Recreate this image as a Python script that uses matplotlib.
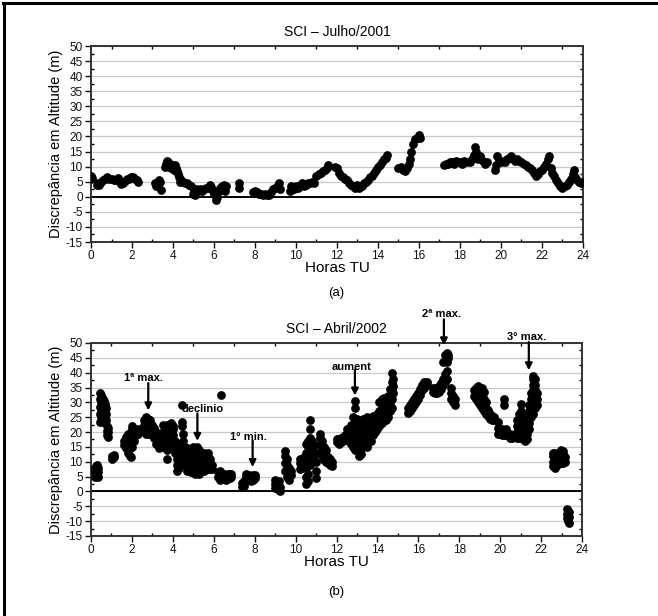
import matplotlib
matplotlib.use("Agg")
import matplotlib.pyplot as plt
from matplotlib.lines import Line2D
from matplotlib.ticker import MultipleLocator

plt.rcParams['font.family'] = ['Liberation Sans', 'DejaVu Sans']
plt.rcParams['axes.unicode_minus'] = False

# SCI - Julho/2001 (hora TU, discrepancia m)
jul_pts = [
    (0.00, 6.8), (0.02, 5.8), (0.05, 6.2),
    (0.30, 4.0), (0.35, 4.5), (0.40, 4.0),
    (0.50, 5.0), (0.60, 5.5), (0.70, 6.0), (0.80, 6.5), (0.90, 6.0), (1.00, 5.8),
    (1.10, 5.5), (1.20, 5.5), (1.30, 6.2), (1.40, 5.0), (1.45, 4.3), (1.55, 4.5),
    (1.65, 5.2), (1.75, 5.8), (1.85, 6.0), (1.95, 6.5), (2.05, 6.5), (2.15, 6.0),
    (2.25, 5.5), (2.30, 4.8),
    (3.10, 4.5), (3.15, 3.5), (3.20, 4.0), (3.30, 5.5), (3.35, 5.0), (3.40, 2.2),
    (3.60, 10.0), (3.65, 11.0), (3.70, 12.0), (3.75, 11.5), (3.80, 10.0), (3.85, 11.0),
    (3.90, 9.5), (3.95, 10.5), (4.00, 10.0), (4.05, 9.0), (4.10, 10.5), (4.15, 9.5),
    (4.20, 8.5), (4.25, 7.5),
    (4.30, 6.5), (4.35, 5.0), (4.40, 5.5), (4.50, 5.0), (4.60, 4.5), (4.70, 4.5),
    (4.80, 4.0), (4.90, 3.5),
    (5.00, 1.0), (5.02, 2.0), (5.05, 0.5), (5.10, 2.5), (5.20, 2.0), (5.30, 2.5),
    (5.40, 2.0), (5.50, 2.5), (5.60, 2.8), (5.70, 3.0), (5.80, 4.0), (5.85, 3.2),
    (5.95, 2.0), (6.00, 1.0), (6.05, 0.5), (6.10, -1.0), (6.15, 0.0),
    (6.25, 2.0), (6.30, 3.0), (6.40, 3.5), (6.50, 4.0), (6.55, 2.0), (6.60, 3.5),
    (7.20, 3.0), (7.22, 4.5),
    (7.90, 1.5), (8.00, 2.0), (8.10, 1.5), (8.20, 1.0), (8.30, 1.0), (8.40, 0.5),
    (8.50, 1.0), (8.60, 0.5), (8.70, 0.5), (8.80, 1.5), (8.90, 2.5), (9.00, 3.0),
    (9.10, 4.0), (9.15, 4.5), (9.20, 2.5),
    (9.70, 2.0), (9.75, 3.5), (9.80, 3.0), (9.90, 2.5), (10.00, 3.5), (10.10, 3.0),
    (10.20, 3.5), (10.30, 4.5), (10.40, 3.5), (10.50, 4.0), (10.60, 4.5), (10.70, 4.5),
    (10.80, 5.0), (10.90, 4.5),
    (11.00, 7.0), (11.10, 7.5), (11.20, 8.0), (11.30, 8.5), (11.40, 9.0), (11.50, 9.5),
    (11.55, 10.5),
    (11.90, 10.0), (12.00, 9.5), (12.10, 8.0), (12.20, 7.0), (12.30, 6.5), (12.40, 6.0),
    (12.50, 5.5), (12.60, 4.5), (12.70, 4.0), (12.80, 3.5), (12.90, 3.0), (13.00, 4.0),
    (13.05, 3.0), (13.10, 3.5), (13.20, 3.5), (13.30, 4.5), (13.40, 5.0), (13.50, 5.5),
    (13.60, 6.5), (13.70, 7.0), (13.80, 8.0), (13.90, 9.0), (14.00, 10.0), (14.10, 10.5),
    (14.20, 11.5), (14.30, 12.5), (14.40, 13.0), (14.45, 14.0),
    (15.00, 9.5), (15.10, 10.0), (15.20, 9.0), (15.30, 8.5), (15.40, 9.5), (15.50, 11.0),
    (15.55, 12.5), (15.60, 15.0), (15.70, 17.5), (15.80, 19.0), (15.90, 19.5),
    (16.00, 20.5), (16.05, 19.5),
    (17.20, 10.5), (17.30, 11.0), (17.40, 11.0), (17.50, 11.5), (17.60, 11.5),
    (17.70, 11.0), (17.80, 12.0), (17.90, 11.5), (18.00, 11.5), (18.10, 11.0),
    (18.20, 12.0), (18.30, 11.5),
    (18.50, 11.5), (18.60, 12.5), (18.70, 14.0), (18.75, 16.5), (18.80, 15.0),
    (18.90, 12.5), (19.00, 13.5), (19.10, 12.0), (19.20, 11.0), (19.30, 11.5),
    (19.70, 9.0), (19.75, 10.5), (19.80, 13.5), (19.90, 12.0), (20.00, 11.5),
    (20.10, 12.0), (20.20, 11.5), (20.30, 12.5), (20.40, 13.0), (20.50, 13.5),
    (20.60, 12.5), (20.70, 12.0), (20.80, 12.5), (20.90, 12.0), (21.00, 11.5),
    (21.10, 11.0), (21.20, 10.5), (21.30, 10.0), (21.40, 9.5), (21.50, 9.0),
    (21.60, 8.0), (21.70, 7.0), (21.80, 7.5), (21.90, 8.5), (22.00, 9.0),
    (22.10, 10.0), (22.20, 11.0), (22.30, 12.5), (22.35, 13.5),
    (22.45, 9.5), (22.50, 8.0), (22.60, 7.0), (22.70, 5.5), (22.80, 4.5), (22.90, 3.5),
    (23.00, 3.0), (23.10, 3.5), (23.20, 4.0), (23.30, 5.0), (23.40, 6.0), (23.50, 7.5),
    (23.55, 9.0), (23.60, 6.5), (23.70, 5.5), (23.80, 5.0), (23.90, 4.5), (24.00, 5.0),
]

abr_cols = [
    (0.20, [5, 6.5, 8]), (0.25, [5.5, 7, 8.5]), (0.30, [6, 7.5, 9]), (0.35, [5, 6.5, 8]),
    (0.45, [23.5, 26, 28.5, 31, 33]), (0.50, [25, 27.5, 30, 32.5]),
    (0.55, [24, 26.5, 29, 31.5]), (0.60, [23.5, 26, 28.5, 31]),
    (0.65, [24, 26.5, 29, 30.5]), (0.70, [23.5, 25.5, 28, 29.5]), (0.75, [24, 26, 28]),
    (0.80, [19, 20.5, 22]), (0.85, [18.5, 20, 21.5]),
    (1.05, [11, 12]), (1.12, [11.5, 12.2]),
    (1.60, [15.5, 17]), (1.70, [14.5, 16.5, 18.5]), (1.80, [13, 15.5, 17.5, 19.5]),
    (1.90, [12, 14.5, 16.5, 18.5]), (1.95, [11.5, 20]), (2.00, [15, 18, 21, 22]),
    (2.10, [17, 19, 21]), (2.20, [19, 20.5]), (2.30, [19.5, 21]),
    (2.60, [20.5, 22.5, 24]), (2.70, [19.5, 21.5, 23.5, 25]),
    (2.80, [19.5, 21.5, 23.5, 24.5]), (2.90, [20, 22, 24]), (3.00, [19, 21, 22.5]),
    (3.10, [18, 20, 21.5]), (3.20, [16, 18, 20]), (3.30, [14.5, 16.5, 19]),
    (3.40, [15, 17, 19.5]), (3.50, [16, 18, 20, 22.5]), (3.60, [15, 17.5, 20, 22]),
    (3.70, [11, 14, 17, 20, 22.5]), (3.80, [15, 17.5, 20, 22.5]),
    (3.90, [16, 18.5, 21, 23]), (4.00, [17, 19, 21, 22]), (4.10, [13, 15, 17]),
    (4.20, [7, 9, 11, 13, 14.5]), (4.30, [8, 10, 12, 14]), (4.40, [10, 12, 14, 16]),
    (4.45, [22, 23.5, 29]), (4.50, [12, 14.5, 17, 19.5]), (4.60, [9, 11, 13, 15]),
    (4.70, [7, 9, 11, 13, 14.5]), (4.80, [8, 10, 12, 14]),
    (4.90, [6.5, 8.5, 10.5, 12.5, 14]), (5.00, [7, 9, 11, 13, 15]),
    (5.10, [6, 8, 10, 12, 14]), (5.20, [7, 9, 11, 13, 15]), (5.30, [6, 8, 10, 12, 14]),
    (5.40, [7, 9, 11, 13]), (5.50, [7, 9, 11, 13]), (5.60, [7.5, 9.5, 11.5]),
    (5.70, [7.5, 9.5, 11.5, 13]), (5.80, [7.5, 9.5, 11]), (5.90, [7.5, 9]),
    (6.35, [32.5]),
    (6.20, [5, 6.5]), (6.30, [4, 5.5, 7]), (6.40, [4.5, 6]), (6.50, [4.5, 6]),
    (6.60, [4, 5.5]), (6.70, [4.5, 6]), (6.80, [4.5, 6]), (6.85, [5, 6]),
    (7.40, [1.5, 3]), (7.50, [2, 3.5]), (7.60, [3.5, 5, 6]), (7.70, [4, 5.5]),
    (7.80, [3.5, 5]), (7.90, [4, 5.5]), (8.00, [4.5, 5.5]),
    (9.00, [1, 2.5, 4]), (9.10, [1.5, 3]), (9.20, [0.5, 2, 3.5]), (9.25, [0, 1.5]),
    (9.50, [7, 9.5, 12, 13.5]), (9.60, [5, 7, 9, 11]), (9.70, [4, 6, 8]), (9.80, [5.5, 7]),
    (10.20, [7.5, 9.5, 11]), (10.30, [8, 10.5]), (10.40, [9, 11.5]),
    (10.50, [2.5, 5, 8, 11, 13, 16]), (10.60, [3.5, 6, 9, 12, 15, 17]),
    (10.70, [9, 12, 15, 18, 21, 24]), (10.80, [10, 12.5, 15, 17]),
    (10.90, [10.5, 13, 15.5]), (11.00, [4.5, 7, 10, 13]),
    (11.20, [13, 15.5, 18, 19.5]), (11.30, [12, 14.5, 17]), (11.40, [10.5, 13, 15]),
    (11.50, [10, 12, 14]), (11.60, [9.5, 11.5]), (11.70, [9, 11]), (11.80, [8.5, 10]),
    (12.00, [16.5, 17.5]), (12.10, [16, 17.5]), (12.20, [16.5, 18]), (12.30, [17, 18.5]),
    (12.40, [17.5, 19]), (12.50, [18, 19.5, 21]), (12.60, [17, 19, 21]),
    (12.70, [16, 18.5, 21, 22.5]), (12.80, [15, 17.5, 20, 22.5, 25]),
    (12.90, [14, 16.5, 19, 21.5, 24, 28, 30.5]), (13.00, [15, 17.5, 20, 22.5, 24.5]),
    (13.10, [12, 14.5, 17, 19.5, 22]), (13.20, [12.5, 15, 17.5, 20, 22.5]),
    (13.30, [15, 17.5, 20, 22.5, 24.5]), (13.40, [16, 18.5, 21, 23.5]),
    (13.50, [15, 17.5, 20, 22.5, 25]), (13.60, [17, 19.5, 22, 24.5]),
    (13.70, [17, 19.5, 22, 24]), (13.80, [19, 21.5, 24, 25.5]), (13.90, [20, 22.5, 25]),
    (14.00, [21, 23.5, 26]), (14.10, [22, 24.5, 27, 30]), (14.20, [23, 26, 28.5, 31]),
    (14.30, [25, 27.5, 30, 31.5]), (14.40, [24, 26.5, 29]), (14.50, [25, 27.5, 30, 32]),
    (14.60, [27, 29.5, 32, 34.5]), (14.70, [28, 31, 34, 37, 40]), (14.75, [33, 35.5, 38]),
    (15.50, [26.5, 28]), (15.60, [27, 29]), (15.70, [28, 30]), (15.80, [29, 31]),
    (15.90, [30, 32]), (16.00, [31, 33]), (16.10, [32.5, 34.5]), (16.20, [34, 36]),
    (16.30, [35, 37]), (16.40, [36, 37]),
    (16.70, [33.5, 35]), (16.80, [33, 35]), (16.90, [33, 35]), (17.00, [33.5, 35.5]),
    (17.10, [34.5, 36.5]), (17.20, [36, 38, 43.5]), (17.30, [37, 39.5, 44, 46]),
    (17.40, [38, 40.5, 43.5, 46.5]), (17.45, [45, 46]),
    (17.60, [31, 33, 35]), (17.70, [30, 32]), (17.80, [29, 31]),
    (18.70, [32, 34]), (18.80, [31, 33, 35]), (18.90, [30, 32, 34, 35.5]),
    (19.00, [29, 31, 33, 35]), (19.10, [28, 30, 32, 35]), (19.20, [27, 29, 31, 33.5]),
    (19.30, [26, 28, 30]), (19.40, [25.5, 27.5]), (19.50, [24.5, 26]),
    (19.60, [24, 25.5]), (19.70, [24, 25]),
    (19.90, [19.5, 21.5, 23.5]), (20.00, [19.5, 21]), (20.10, [19, 21]),
    (20.20, [19, 20.5, 29, 31]), (20.30, [19, 21]), (20.50, [18, 19.5]), (20.60, [18, 19]),
    (20.80, [18, 20, 22, 24]), (20.90, [18, 20, 22, 24, 26]),
    (21.00, [19, 21, 23, 25, 27, 29.5]), (21.10, [17.5, 19.5, 21.5, 23.5, 25.5]),
    (21.20, [17, 19, 21, 23]), (21.30, [17.5, 19.5, 21.5, 23.5, 25]),
    (21.40, [21, 23, 25, 27, 29]), (21.50, [25, 27, 29, 31, 33]),
    (21.60, [26, 28, 30, 32, 34, 36, 38, 39]), (21.70, [28, 30, 32, 34, 36, 38]),
    (21.80, [29, 31, 33]),
    (22.60, [8.5, 10, 12, 13]), (22.70, [8, 10, 12, 13]), (22.80, [9, 11]),
    (22.95, [9.5, 11, 12.5, 14]), (23.05, [9.5, 11, 12.5, 13.5]), (23.15, [10, 11.5]),
    (23.25, [-6, -7.5, -9]), (23.30, [-6.5, -8, -10]), (23.35, [-7, -8.5, -10.5]),
]

# anotacoes do painel (b): texto, (x, y) do texto, x da seta, y inicio, y fim
notes_txt = ['1ª max.', 'declinio', '1° min.', 'aument', '2ª max.', '3° max.']
notes_xy = [(2.55, 38.2), (5.45, 27.6), (7.7, 18.5), (12.75, 42.0), (17.15, 59.8), (21.3, 52.0)]
arrow_x = [2.8, 5.2, 7.9, 12.9, 17.25, 21.4]
arrow_y0 = [36.5, 26.3, 17.2, 41.0, 58.0, 50.3]
arrow_y1 = [27.3, 17.0, 8.2, 32.3, 49.2, 40.8]

jul_t = [p[0] for p in jul_pts]
jul_v = [p[1] for p in jul_pts]
abr_t = [c[0] for c in abr_cols for v in c[1]]
abr_v = [v for c in abr_cols for v in c[1]]

fig = plt.figure(figsize=(6.58, 6.16), dpi=100)
ax1 = fig.add_axes([0.1383, 0.6071, 0.7477, 0.3182])
ax2 = fig.add_axes([0.1383, 0.1299, 0.7462, 0.3133])


def style(ax):
    ax.set_xlim(0, 24)
    ax.set_ylim(-15, 50)
    ax.xaxis.set_major_locator(MultipleLocator(2))
    ax.xaxis.set_minor_locator(MultipleLocator(1))
    ax.yaxis.set_major_locator(MultipleLocator(5))
    ax.yaxis.set_minor_locator(MultipleLocator(2.5))
    ax.grid(axis='y', which='major', color='#c8c8c8', lw=0.9)
    ax.set_axisbelow(True)
    ax.axhline(0, color='black', lw=1.4, zorder=1.5)
    for s in ax.spines.values():
        s.set_color('#333333')
        s.set_linewidth(1.4)
    ax.tick_params(which='major', direction='out', length=4, width=1, labelsize=8.5,
                   pad=2, colors='#111111')
    ax.tick_params(which='minor', direction='in', length=2, width=1)
    ax.tick_params(which='both', top=True, right=True)
    ax.tick_params(axis='x', which='major', top=False)
    ax.tick_params(axis='y', which='major', right=False)
    ax.set_ylabel('Discrepância em Altitude (m)', fontsize=10.5, labelpad=2)
    ax.set_xlabel('Horas TU', fontsize=11, labelpad=-1)


style(ax1)
ax1.plot(jul_t, jul_v, 'o', color='black', ms=6.3, mew=0, zorder=3)
ax1.set_title('SCI – Julho/2001', fontsize=10, pad=7)
fig.text(0.5106, 0.524, '(a)', ha='center', va='center', fontsize=9.5)

style(ax2)
ax2.plot(abr_t, abr_v, 'o', color='black', ms=6.3, mew=0, zorder=3)
ax2.set_title('SCI – Abril/2002', fontsize=10, pad=7)
fig.text(0.5106, 0.039, '(b)', ha='center', va='center', fontsize=9.5)

for txt, (tx, ty), axx, y0, y1 in zip(notes_txt, notes_xy, arrow_x, arrow_y0, arrow_y1):
    ax2.text(tx, ty, txt, ha='center', va='center', fontsize=8, weight='bold',
             clip_on=False, zorder=5)
    ax2.annotate('', xy=(axx, y1), xytext=(axx, y0), annotation_clip=False,
                 arrowprops=dict(arrowstyle='-|>', color='black', lw=1.6,
                                 mutation_scale=10, shrinkA=0, shrinkB=0), zorder=5)

# moldura (esquerda e topo)
fig.add_artist(Line2D([0.0061, 0.0061], [0, 0.995], color='black', lw=2.2))
fig.add_artist(Line2D([0.0045, 1.0], [0.995, 0.995], color='black', lw=2.2))

fig.savefig('out.png', dpi=100)
